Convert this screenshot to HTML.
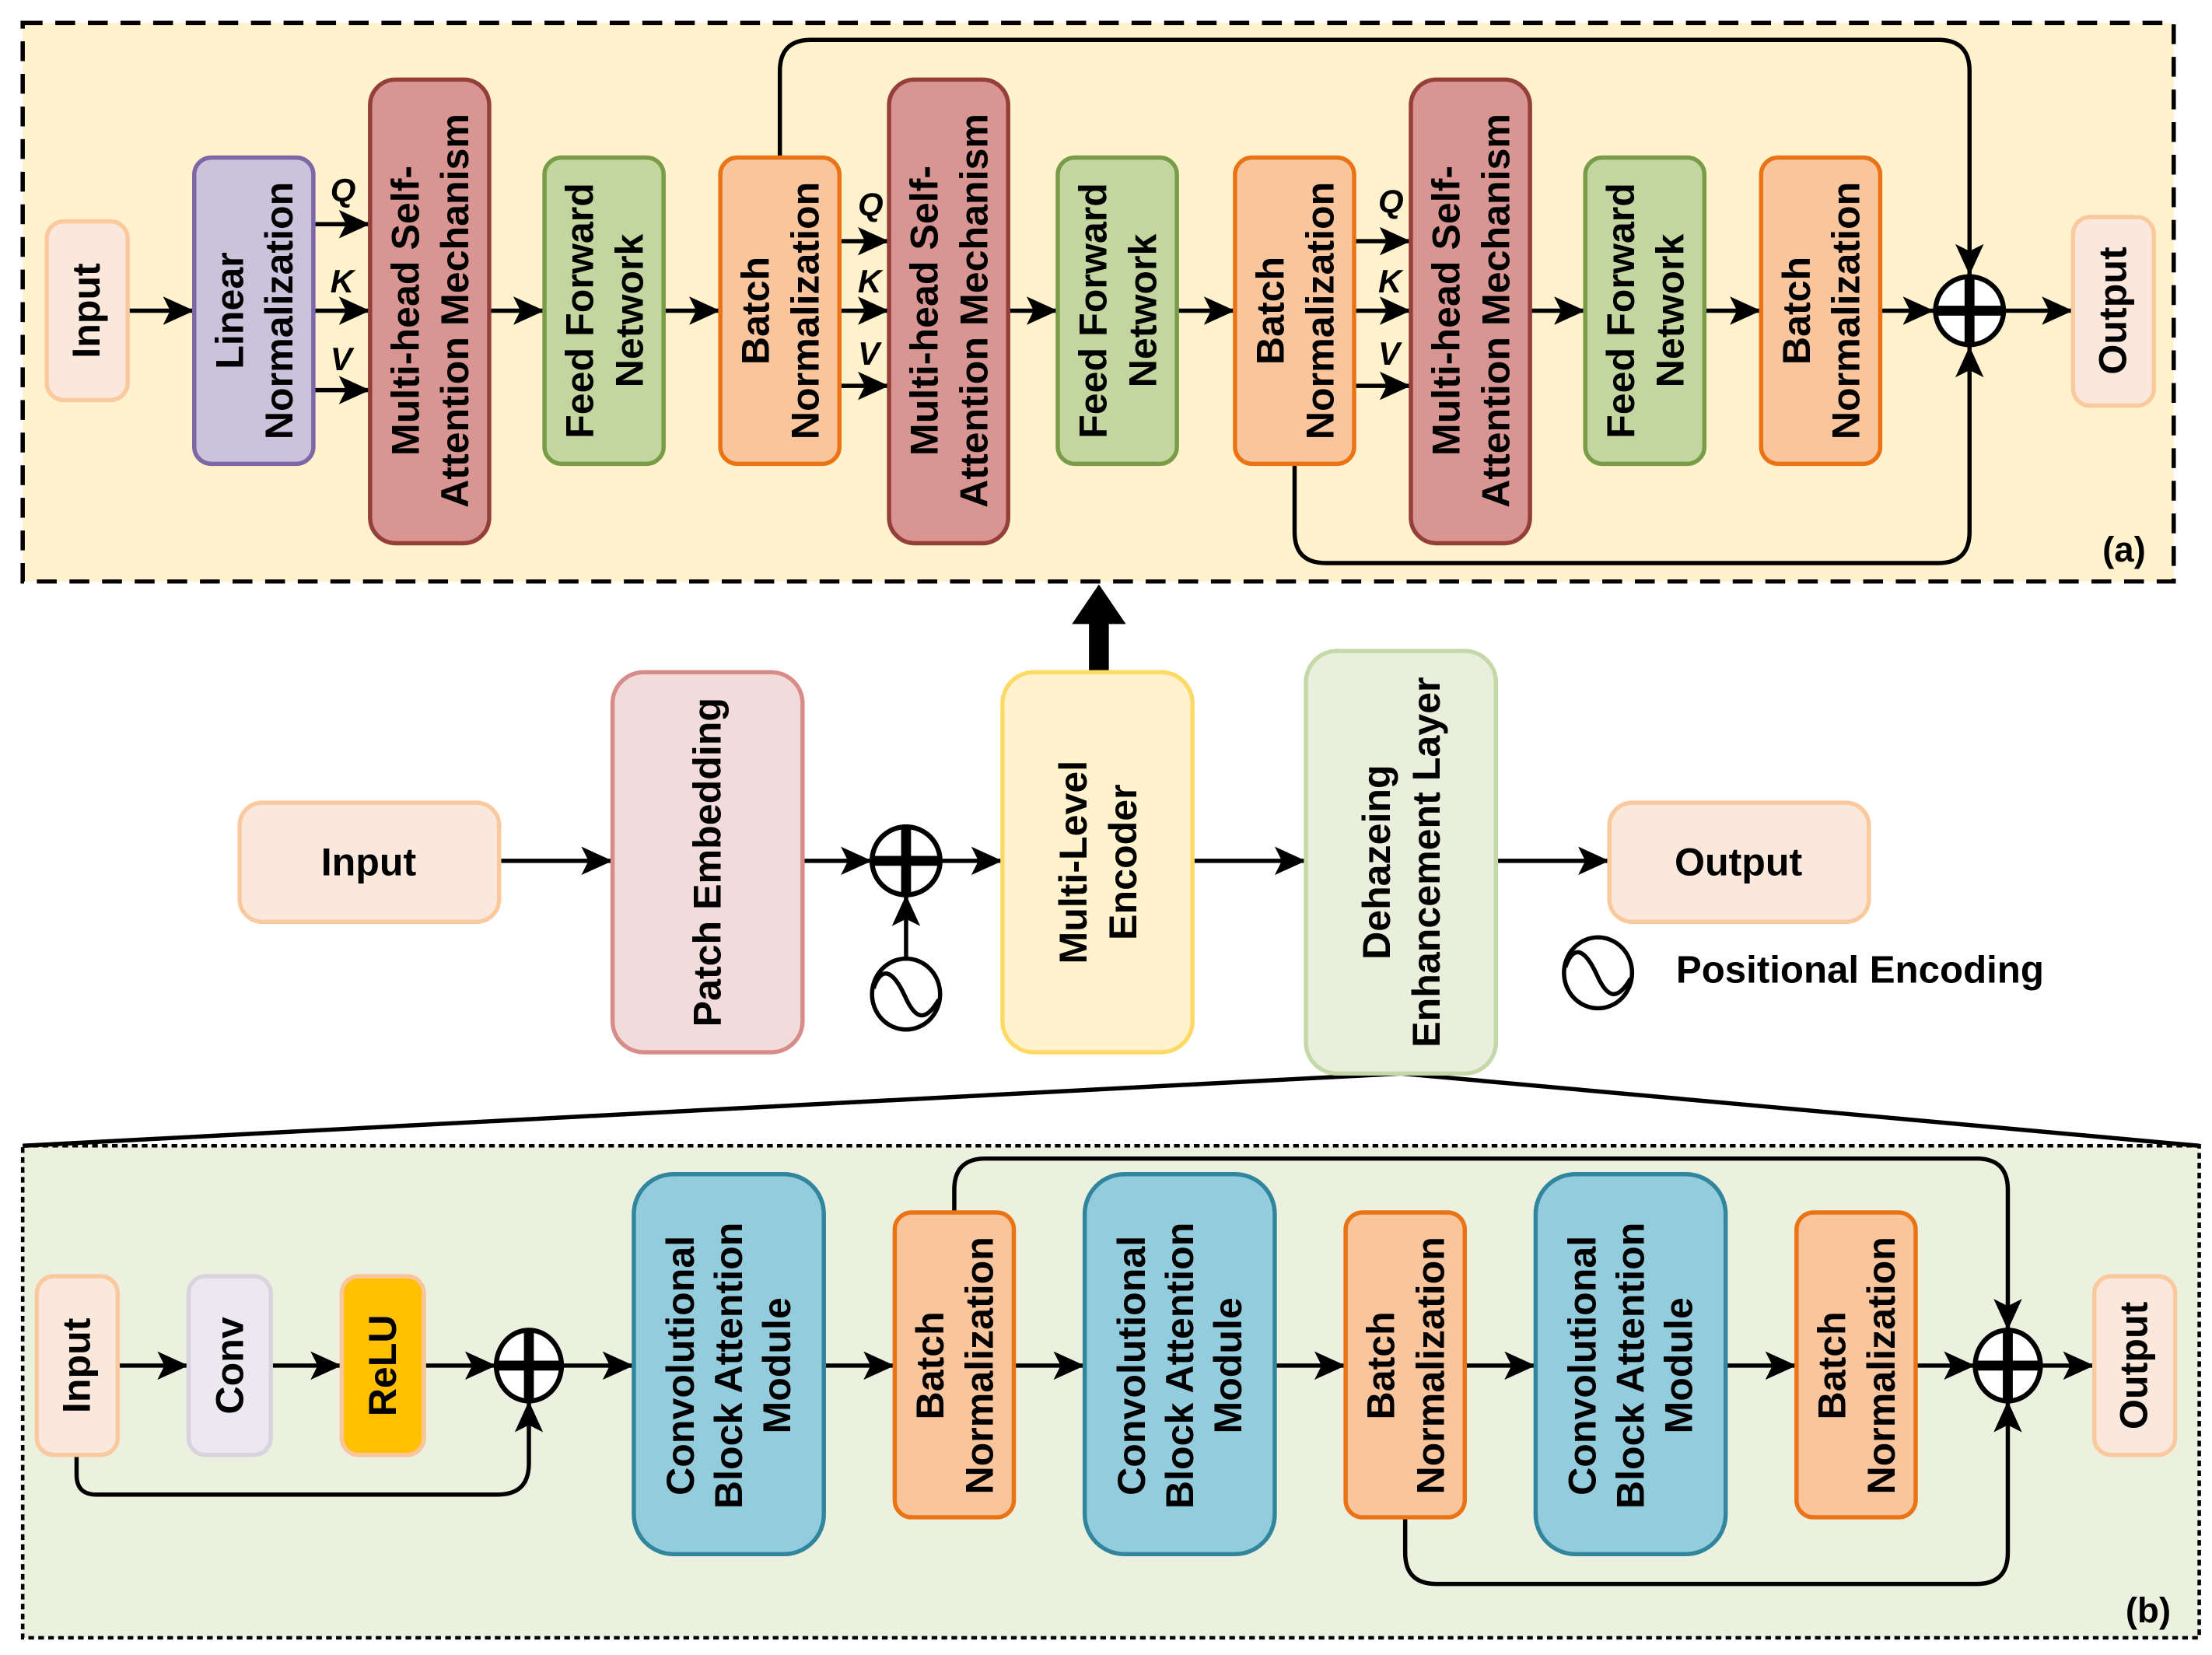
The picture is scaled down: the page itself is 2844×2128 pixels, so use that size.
<!DOCTYPE html>
<html><head><meta charset="utf-8"><style>html,body{margin:0;padding:0;background:#fff}svg{display:block}</style></head>
<body>
<svg xmlns="http://www.w3.org/2000/svg" width="2844" height="2128" viewBox="0 0 1560 1167" font-family="Liberation Sans, Arial, sans-serif" font-weight="bold">
<defs>
<marker id="a" markerUnits="userSpaceOnUse" markerWidth="24" markerHeight="20" refX="22" refY="10" orient="auto"><path d="M0,0 L22,10 L0,20 L5,10 Z" fill="#000"/></marker>
</defs>
<style>
.t{font-size:27.5px;text-anchor:middle;dominant-baseline:central}
.ln{stroke:#000;stroke-width:3;fill:none}
.i{font-style:italic;font-weight:bold;font-size:23px}
</style>

<rect x="16" y="16" width="1517" height="394" fill="#fff2cc" stroke="#000" stroke-width="3" stroke-dasharray="14,9"/>
<rect x="16" y="808" width="1535" height="347" fill="#ebf1de" stroke="#000" stroke-width="2.5" stroke-dasharray="4,3"/>
<path d="M16,808 L988,757 L1551,808" class="ln" stroke-width="2.5"/>

<path d="M550,111 V50 Q550,28 572,28 H1367 Q1389,28 1389,50 V194" class="ln" marker-end="url(#a)"/>
<path d="M913,327 V375 Q913,397 935,397 H1367 Q1389,397 1389,375 V244" class="ln" marker-end="url(#a)"/>
<g class="ln">
<path d="M90,219 H137" marker-end="url(#a)"/>
<path d="M221,158 H261" marker-end="url(#a)"/>
<path d="M221,219 H261" marker-end="url(#a)"/>
<path d="M221,275 H261" marker-end="url(#a)"/>
<path d="M345,219 H384" marker-end="url(#a)"/>
<path d="M468,219 H508" marker-end="url(#a)"/>
<path d="M592,170 H627" marker-end="url(#a)"/>
<path d="M592,219 H627" marker-end="url(#a)"/>
<path d="M592,272 H627" marker-end="url(#a)"/>
<path d="M711,219 H746" marker-end="url(#a)"/>
<path d="M830,219 H871" marker-end="url(#a)"/>
<path d="M955,170 H995" marker-end="url(#a)"/>
<path d="M955,219 H995" marker-end="url(#a)"/>
<path d="M955,272 H995" marker-end="url(#a)"/>
<path d="M1079,219 H1118" marker-end="url(#a)"/>
<path d="M1202,219 H1242" marker-end="url(#a)"/>
<path d="M1326,219 H1364" marker-end="url(#a)"/>
<path d="M1414,219 H1462" marker-end="url(#a)"/>
</g>
<g class="i">
<text x="233" y="142">Q</text><text x="233" y="206">K</text><text x="233" y="261">V</text>
<text x="605" y="152">Q</text><text x="605" y="206">K</text><text x="605" y="257">V</text>
<text x="972" y="150">Q</text><text x="972" y="206">K</text><text x="972" y="257">V</text>
</g>

<g stroke-width="3">
<rect x="33" y="156" width="57" height="126" rx="12" fill="#fbe8dc" stroke="#fac99e"/>
<rect x="137" y="111" width="84" height="216" rx="12" fill="#cbc2dc" stroke="#7d67a6"/>
<rect x="261" y="56" width="84" height="327" rx="18" fill="#d89592" stroke="#953f3b"/>
<rect x="384" y="111" width="84" height="216" rx="12" fill="#c4d6a0" stroke="#799c48"/>
<rect x="508" y="111" width="84" height="216" rx="12" fill="#f8c59c" stroke="#ea7316"/>
<rect x="627" y="56" width="84" height="327" rx="18" fill="#d89592" stroke="#953f3b"/>
<rect x="746" y="111" width="84" height="216" rx="12" fill="#c4d6a0" stroke="#799c48"/>
<rect x="871" y="111" width="84" height="216" rx="12" fill="#f8c59c" stroke="#ea7316"/>
<rect x="995" y="56" width="84" height="327" rx="18" fill="#d89592" stroke="#953f3b"/>
<rect x="1118" y="111" width="84" height="216" rx="12" fill="#c4d6a0" stroke="#799c48"/>
<rect x="1242" y="111" width="84" height="216" rx="12" fill="#f8c59c" stroke="#ea7316"/>
<rect x="1462" y="153" width="57" height="133" rx="12" fill="#fbe8dc" stroke="#fac99e"/>
</g>
<g class="t">
<text transform="translate(61,219) rotate(-90)">Input</text>
<text transform="translate(179,219) rotate(-90)"><tspan x="0" dy="-17">Linear</tspan><tspan x="0" dy="35">Normalization</tspan></text>
<text transform="translate(303,219) rotate(-90)"><tspan x="0" dy="-17">Multi-head Self-</tspan><tspan x="0" dy="35">Attention Mechanism</tspan></text>
<text transform="translate(426,219) rotate(-90)"><tspan x="0" dy="-17">Feed Forward</tspan><tspan x="0" dy="35">Network</tspan></text>
<text transform="translate(550,219) rotate(-90)"><tspan x="0" dy="-17">Batch</tspan><tspan x="0" dy="35">Normalization</tspan></text>
<text transform="translate(669,219) rotate(-90)"><tspan x="0" dy="-17">Multi-head Self-</tspan><tspan x="0" dy="35">Attention Mechanism</tspan></text>
<text transform="translate(788,219) rotate(-90)"><tspan x="0" dy="-17">Feed Forward</tspan><tspan x="0" dy="35">Network</tspan></text>
<text transform="translate(913,219) rotate(-90)"><tspan x="0" dy="-17">Batch</tspan><tspan x="0" dy="35">Normalization</tspan></text>
<text transform="translate(1037,219) rotate(-90)"><tspan x="0" dy="-17">Multi-head Self-</tspan><tspan x="0" dy="35">Attention Mechanism</tspan></text>
<text transform="translate(1160,219) rotate(-90)"><tspan x="0" dy="-17">Feed Forward</tspan><tspan x="0" dy="35">Network</tspan></text>
<text transform="translate(1284,219) rotate(-90)"><tspan x="0" dy="-17">Batch</tspan><tspan x="0" dy="35">Normalization</tspan></text>
<text transform="translate(1490,219) rotate(-90)">Output</text>
</g>
<circle cx="1389" cy="219" r="24" fill="#fff" stroke="#000" stroke-width="3.5"/>
<path d="M1365,219 H1413 M1389,195 V243" stroke="#000" stroke-width="7"/>
<text x="1498" y="396" font-size="25" text-anchor="middle">(a)</text>

<path d="M768,473 V440 H756 L775,412 L794,440 H782 V473 Z" fill="#000"/>

<g class="ln">
<path d="M352,607 H432" marker-end="url(#a)"/>
<path d="M566,607 H615" marker-end="url(#a)"/>
<path d="M663,607 H707" marker-end="url(#a)"/>
<path d="M639,677 V631" marker-end="url(#a)"/>
<path d="M841,607 H921" marker-end="url(#a)"/>
<path d="M1055,607 H1135" marker-end="url(#a)"/>
</g>
<g stroke-width="3">
<rect x="169" y="566" width="183" height="84" rx="16" fill="#fbe8dc" stroke="#fac99e"/>
<rect x="432" y="474" width="134" height="268" rx="22" fill="#f2dcdb" stroke="#d88c8a"/>
<rect x="707" y="474" width="134" height="268" rx="22" fill="#fff2cc" stroke="#ffd966"/>
<rect x="921" y="459" width="134" height="298" rx="22" fill="#e9efdc" stroke="#c5d9a8"/>
<rect x="1135" y="566" width="183" height="84" rx="16" fill="#fbe8dc" stroke="#fac99e"/>
</g>
<g class="t">
<text x="260" y="608">Input</text>
<text x="1226" y="608">Output</text>
<text transform="translate(499,608) rotate(-90)">Patch Embedding</text>
<text transform="translate(774,608) rotate(-90)"><tspan x="0" dy="-17">Multi-Level</tspan><tspan x="0" dy="35">Encoder</tspan></text>
<text transform="translate(988,608) rotate(-90)"><tspan x="0" dy="-17">Dehazeing</tspan><tspan x="0" dy="35">Enhancement Layer</tspan></text>
</g>
<circle cx="639" cy="607" r="24" fill="#fff" stroke="#000" stroke-width="3.5"/>
<path d="M615,607 H663 M639,583 V631" stroke="#000" stroke-width="7"/>
<g fill="#fff" stroke="#000" stroke-width="3">
<ellipse cx="639" cy="701" rx="24" ry="25"/>
<ellipse cx="1127" cy="686" rx="24" ry="25"/>
</g>
<path d="M616,697 C622,680 630,685 638,702 C645,718 652,722 662,705" class="ln" stroke-width="2.5"/>
<path d="M1104,682 C1110,665 1118,670 1126,687 C1133,703 1140,707 1150,690" class="ln" stroke-width="2.5"/>
<text x="1182" y="693" font-size="27">Positional Encoding</text>

<path d="M54,1026 V1040 Q54,1054 68,1054 H351 Q373,1054 373,1032 V988" class="ln" marker-end="url(#a)"/>
<path d="M673,855 V839 Q673,817 695,817 H1394 Q1416,817 1416,839 V938" class="ln" marker-end="url(#a)"/>
<path d="M991,1070 V1095 Q991,1117 1013,1117 H1394 Q1416,1117 1416,1095 V988" class="ln" marker-end="url(#a)"/>
<g class="ln">
<path d="M83,963 H133" marker-end="url(#a)"/>
<path d="M191,963 H241" marker-end="url(#a)"/>
<path d="M299,963 H350" marker-end="url(#a)"/>
<path d="M396,963 H447" marker-end="url(#a)"/>
<path d="M581,963 H631" marker-end="url(#a)"/>
<path d="M715,963 H765" marker-end="url(#a)"/>
<path d="M899,963 H949" marker-end="url(#a)"/>
<path d="M1033,963 H1083" marker-end="url(#a)"/>
<path d="M1217,963 H1267" marker-end="url(#a)"/>
<path d="M1351,963 H1393" marker-end="url(#a)"/>
<path d="M1439,963 H1477" marker-end="url(#a)"/>
</g>
<g stroke-width="3">
<rect x="26" y="900" width="57" height="126" rx="12" fill="#fbe8dc" stroke="#fac99e"/>
<rect x="133" y="900" width="58" height="126" rx="12" fill="#ece8f0" stroke="#d9d3e0"/>
<rect x="241" y="900" width="58" height="126" rx="12" fill="#ffc000" stroke="#f8c59c"/>
<rect x="447" y="828" width="134" height="268" rx="28" fill="#93cddd" stroke="#31859c"/>
<rect x="631" y="855" width="84" height="215" rx="12" fill="#f8c59c" stroke="#ea7316"/>
<rect x="765" y="828" width="134" height="268" rx="28" fill="#93cddd" stroke="#31859c"/>
<rect x="949" y="855" width="84" height="215" rx="12" fill="#f8c59c" stroke="#ea7316"/>
<rect x="1083" y="828" width="134" height="268" rx="28" fill="#93cddd" stroke="#31859c"/>
<rect x="1267" y="855" width="84" height="215" rx="12" fill="#f8c59c" stroke="#ea7316"/>
<rect x="1477" y="900" width="57" height="126" rx="12" fill="#fbe8dc" stroke="#fac99e"/>
</g>
<g class="t">
<text transform="translate(54,963) rotate(-90)">Input</text>
<text transform="translate(162,963) rotate(-90)">Conv</text>
<text transform="translate(270,963) rotate(-90)">ReLU</text>
<text transform="translate(514,963) rotate(-90)"><tspan x="0" dy="-34">Convolutional</tspan><tspan x="0" dy="34">Block Attention</tspan><tspan x="0" dy="34">Module</tspan></text>
<text transform="translate(673,963) rotate(-90)"><tspan x="0" dy="-17">Batch</tspan><tspan x="0" dy="35">Normalization</tspan></text>
<text transform="translate(832,963) rotate(-90)"><tspan x="0" dy="-34">Convolutional</tspan><tspan x="0" dy="34">Block Attention</tspan><tspan x="0" dy="34">Module</tspan></text>
<text transform="translate(991,963) rotate(-90)"><tspan x="0" dy="-17">Batch</tspan><tspan x="0" dy="35">Normalization</tspan></text>
<text transform="translate(1150,963) rotate(-90)"><tspan x="0" dy="-34">Convolutional</tspan><tspan x="0" dy="34">Block Attention</tspan><tspan x="0" dy="34">Module</tspan></text>
<text transform="translate(1309,963) rotate(-90)"><tspan x="0" dy="-17">Batch</tspan><tspan x="0" dy="35">Normalization</tspan></text>
<text transform="translate(1505,963) rotate(-90)">Output</text>
</g>
<ellipse cx="373" cy="963" rx="23" ry="25" fill="#fff" stroke="#000" stroke-width="3.5"/>
<path d="M350,963 H396 M373,938 V988" stroke="#000" stroke-width="7"/>
<ellipse cx="1416" cy="963" rx="23" ry="25" fill="#fff" stroke="#000" stroke-width="3.5"/>
<path d="M1393,963 H1439 M1416,938 V988" stroke="#000" stroke-width="7"/>
<text x="1515" y="1144" font-size="25" text-anchor="middle">(b)</text>
</svg>
</body></html>
